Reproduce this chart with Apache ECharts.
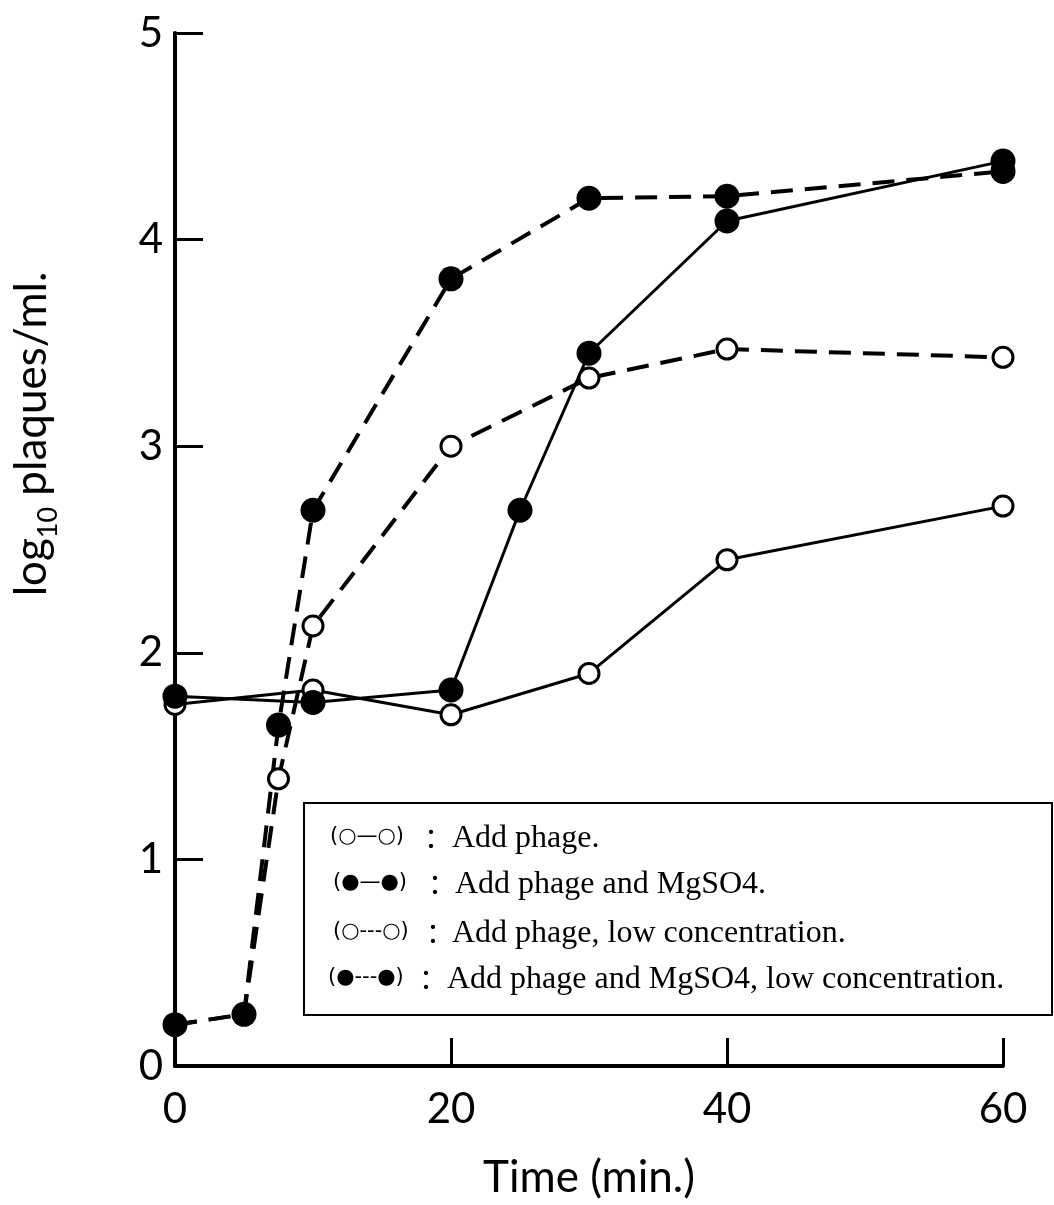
<!DOCTYPE html>
<html>
<head>
<meta charset="utf-8">
<title>Phage plaques over time</title>
<script src="https://cdn.jsdelivr.net/npm/echarts@6/dist/echarts.min.js"></script>
<style>
  html, body { margin: 0; padding: 0; background: #fff; }
  #chart { width: 1054px; height: 1205px; }
</style>
</head>
<body>
<div id="chart"></div>
<script>
// Time points (min) and log10 plaques/ml for each condition
const phageTime = [0, 10, 20, 30, 40, 60];
const phageLog = [1.75, 1.82, 1.70, 1.90, 2.45, 2.71];

const mgTime = [0, 10, 20, 25, 30, 40, 60];
const mgLog = [1.79, 1.76, 1.82, 2.69, 3.45, 4.09, 4.38];

const lowTime = [0, 5, 7.5, 10, 20, 30, 40, 60];
const phageLowLog = [0.20, 0.25, 1.39, 2.13, 3.00, 3.33, 3.47, 3.43];
const mgLowLog = [0.20, 0.25, 1.65, 2.69, 3.81, 4.20, 4.21, 4.33];

const xTicks = [0, 20, 40, 60];
const yTicks = [0, 1, 2, 3, 4, 5];

const legendSymbols = ['(○—○)', '(●—●)', '(○---○)', '(●---●)'];
const legendLabels = [
  'Add phage.',
  'Add phage and MgSO4.',
  'Add phage, low concentration.',
  'Add phage and MgSO4, low concentration.'
];

const pairs = (xs, ys) => xs.map((x, i) => [x, ys[i]]);

const sansFont = 'Lato, "Open Sans", sans-serif';
const serifFont = '"Liberation Serif", "Times New Roman", serif';

const openMarker = { color: '#fff', borderColor: '#000', borderWidth: 3 };
const filledMarker = { color: '#000', borderColor: '#000', borderWidth: 0 };

function lineSeries(name, data, filled, dashed) {
  return {
    name: name,
    type: 'line',
    data: data,
    symbol: 'circle',
    symbolSize: filled ? 25 : 20,
    showSymbol: true,
    animation: false,
    lineStyle: {
      color: '#000',
      width: dashed ? 4 : 3,
      type: dashed ? [22, 12] : 'solid'
    },
    itemStyle: filled ? filledMarker : openMarker,
    emphasis: { disabled: true }
  };
}

// Legend box with its four rows
const rowY = [837, 883, 932, 978];
const symbolX = [330, 333, 333, 328];
const colonX = [424, 428, 426, 419];
const labelX = [452, 455, 452, 447];
const legendGraphics = [{
  type: 'rect',
  shape: { x: 304, y: 803, width: 748, height: 212 },
  style: { fill: '#fff', stroke: '#000', lineWidth: 2 },
  z: 100
}];
rowY.forEach((y, i) => {
  legendGraphics.push({
    type: 'text', x: symbolX[i], y: y, z: 101,
    style: { text: legendSymbols[i], font: '21px "DejaVu Sans", sans-serif', fill: '#000', align: 'left', verticalAlign: 'middle' }
  });
  legendGraphics.push({
    type: 'text', x: colonX[i], y: y, z: 101,
    style: { text: '：', font: '28px "Noto Sans CJK SC", sans-serif', fill: '#000', align: 'left', verticalAlign: 'middle' }
  });
  legendGraphics.push({
    type: 'text', x: labelX[i], y: y + 2, z: 101,
    style: { text: legendLabels[i], font: '32px ' + serifFont, fill: '#000', align: 'left', verticalAlign: 'middle' }
  });
});

const chart = echarts.init(document.getElementById('chart'), null, { renderer: 'canvas' });

chart.setOption({
  backgroundColor: '#fff',
  animation: false,
  grid: { left: 175, right: 51, top: 33, bottom: 139, containLabel: false },
  xAxis: {
    type: 'value',
    min: xTicks[0],
    max: xTicks[xTicks.length - 1],
    interval: 20,
    axisLine: { show: true, onZero: false, lineStyle: { color: '#000', width: 4 } },
    axisTick: { show: true, inside: true, length: 28, lineStyle: { color: '#000', width: 3 } },
    splitLine: { show: false },
    axisLabel: { show: true, color: '#000', fontFamily: sansFont, fontSize: 42, margin: 22 },
    name: 'Time (min.)',
    nameLocation: 'middle',
    nameGap: 90,
    nameTextStyle: { color: '#000', fontFamily: sansFont, fontSize: 44 }
  },
  yAxis: {
    type: 'value',
    min: yTicks[0],
    max: yTicks[yTicks.length - 1],
    interval: 1,
    axisLine: { show: true, onZero: false, lineStyle: { color: '#000', width: 4 } },
    axisTick: { show: true, inside: true, length: 28, lineStyle: { color: '#000', width: 3 } },
    splitLine: { show: false },
    axisLabel: { show: true, color: '#000', fontFamily: sansFont, fontSize: 42, margin: 12 }
  },
  graphic: [{
    type: 'text',
    x: 36,
    y: 434,
    rotation: Math.PI / 2,
    style: {
      text: '{n|log}{s|10}{n| plaques/ml.}',
      align: 'center',
      verticalAlign: 'middle',
      fill: '#000',
      rich: {
        n: { fontFamily: sansFont, fontSize: 44, lineHeight: 48, verticalAlign: 'top', fill: '#000' },
        s: { fontFamily: sansFont, fontSize: 27, verticalAlign: 'top', padding: [25, 0, 0, 0], fill: '#000' }
      }
    }
  }].concat(legendGraphics),
  series: [
    lineSeries('Add phage.', pairs(phageTime, phageLog), false, false),
    lineSeries('Add phage, low concentration.', pairs(lowTime, phageLowLog), false, true),
    lineSeries('Add phage and MgSO4, low concentration.', pairs(lowTime, mgLowLog), true, true),
    lineSeries('Add phage and MgSO4.', pairs(mgTime, mgLog), true, false)
  ]
});
</script>
</body>
</html>
